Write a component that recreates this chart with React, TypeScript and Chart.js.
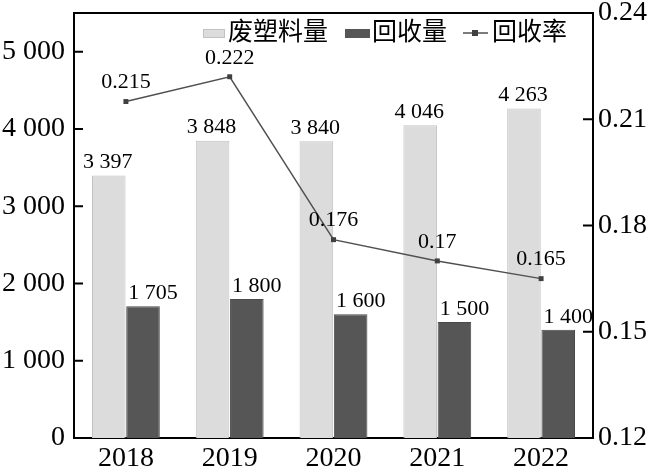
import React, { useEffect, useRef } from "react";
import { Chart, registerables } from "chart.js";

Chart.register(...registerables);

const categories = ["2018", "2019", "2020", "2021", "2022"];
const wasteAmount = [3397, 3848, 3840, 4046, 4263];
const recycledAmount = [1705, 1800, 1600, 1500, 1400];
const recycleRate = [0.215, 0.222, 0.176, 0.17, 0.165];
const seriesNames = ["废塑料量", "回收量", "回收率"];
const leftTickValues = [0, 1000, 2000, 3000, 4000, 5000];
const rightTickValues = [0.12, 0.15, 0.18, 0.21, 0.24];

const SERIF = '"Liberation Serif", "Noto Sans CJK SC", serif';
const LIGHT = "#dcdcdc";
const LIGHT_BORDER = "#c2c2c2";
const DARK = "#565656";
const LINE = "#505050";

const fmtThousands = (n: number) =>
  String(n).replace(/\B(?=(\d{3})+(?!\d))/g, " ");

const noPad = (s: any) => {
  s.paddingTop = 0;
  s.paddingBottom = 0;
  s.paddingLeft = 0;
  s.paddingRight = 0;
};

const decorPlugin = {
  id: "decor",
  afterDatasetsDraw(chart: any) {
    const ctx = chart.ctx;
    const area = chart.chartArea;
    ctx.save();
    ctx.strokeStyle = "#000";
    ctx.lineWidth = 2;
    ctx.beginPath();
    ctx.moveTo(area.left - 1, area.top);
    ctx.lineTo(area.right + 1, area.top);
    ctx.stroke();
    const yl = chart.scales.y;
    const yr = chart.scales.y1;
    ctx.beginPath();
    yl.ticks.forEach((t: any) => {
      const py = yl.getPixelForValue(t.value);
      ctx.moveTo(area.left, py);
      ctx.lineTo(area.left + 9, py);
    });
    yr.ticks.forEach((t: any) => {
      const py = yr.getPixelForValue(t.value);
      ctx.moveTo(area.right - 10, py);
      ctx.lineTo(area.right, py);
    });
    ctx.stroke();

    ctx.fillStyle = "#000";
    ctx.font = `22px ${SERIF}`;
    ctx.textAlign = "center";
    ctx.textBaseline = "bottom";
    const m0 = chart.getDatasetMeta(0);
    m0.data.forEach((el: any, i: number) => {
      ctx.fillText(fmtThousands(wasteAmount[i]), el.x - 1, el.y - 2);
    });
    const m1 = chart.getDatasetMeta(1);
    m1.data.forEach((el: any, i: number) => {
      ctx.fillText(fmtThousands(recycledAmount[i]), el.x + 10, el.y - 2);
    });
    const m2 = chart.getDatasetMeta(2);
    m2.data.forEach((el: any, i: number) => {
      ctx.fillText(String(recycleRate[i]), el.x, el.y - 8);
    });

    ctx.font = `25px ${SERIF}`;
    ctx.textAlign = "left";
    ctx.textBaseline = "middle";
    const ly = 33;
    ctx.fillStyle = LIGHT;
    ctx.fillRect(203, ly - 4, 22, 9);
    ctx.strokeStyle = LIGHT_BORDER;
    ctx.lineWidth = 1;
    ctx.strokeRect(203.5, ly - 3.5, 21, 8);
    ctx.fillStyle = "#000";
    ctx.fillText(seriesNames[0], 228, ly);
    ctx.fillStyle = DARK;
    ctx.fillRect(345, ly - 4, 25, 9);
    ctx.fillStyle = "#000";
    ctx.fillText(seriesNames[1], 372, ly);
    ctx.strokeStyle = LINE;
    ctx.lineWidth = 1.5;
    ctx.beginPath();
    ctx.moveTo(463, ly);
    ctx.lineTo(488, ly);
    ctx.stroke();
    ctx.fillStyle = "#404040";
    ctx.fillRect(472, ly - 3, 6, 6);
    ctx.fillStyle = "#000";
    ctx.fillText(seriesNames[2], 492, ly);
    ctx.restore();
  },
};

export default function App() {
  const ref = useRef<HTMLCanvasElement | null>(null);

  useEffect(() => {
    document.body.style.margin = "0";
    const canvas = ref.current;
    if (!canvas) return;
    const chart = new Chart(canvas, {
      type: "bar",
      data: {
        labels: categories,
        datasets: [
          {
            type: "bar",
            label: seriesNames[0],
            data: wasteAmount,
            backgroundColor: LIGHT,
            borderColor: LIGHT_BORDER,
            borderWidth: 1,
            yAxisID: "y",
            order: 2,
            categoryPercentage: 0.66,
            barPercentage: 0.98,
          },
          {
            type: "bar",
            label: seriesNames[1],
            data: recycledAmount,
            backgroundColor: DARK,
            borderColor: "#4a4a4a",
            borderWidth: 1,
            yAxisID: "y",
            order: 2,
            categoryPercentage: 0.66,
            barPercentage: 0.98,
          },
          {
            type: "line",
            label: seriesNames[2],
            data: recycleRate,
            borderColor: LINE,
            borderWidth: 1.5,
            pointStyle: "rect",
            pointRadius: 3.5,
            pointBackgroundColor: "#404040",
            pointBorderColor: "#404040",
            pointBorderWidth: 0,
            tension: 0,
            yAxisID: "y1",
            order: 0,
          } as any,
        ],
      },
      options: {
        responsive: false,
        animation: false,
        devicePixelRatio: 1,
        layout: { padding: { top: 13, left: 0, right: 0, bottom: 0 } },
        plugins: {
          legend: { display: false },
          tooltip: { enabled: false },
        },
        scales: {
          x: {
            grid: { display: false, drawTicks: false },
            border: { display: true, color: "#000", width: 2 },
            ticks: {
              color: "#000",
              font: { family: SERIF, size: 28 },
              padding: 4,
            },
            afterFit: (s: any) => {
              s.height = 31;
              noPad(s);
            },
          },
          y: {
            position: "left",
            min: 0,
            max: 5500,
            grid: { display: false, drawTicks: false },
            border: { display: true, color: "#000", width: 2 },
            afterBuildTicks: (s: any) => {
              s.ticks = leftTickValues.map((v) => ({ value: v }));
            },
            ticks: {
              color: "#000",
              font: { family: SERIF, size: 28 },
              padding: 9,
              callback: (v: any) => fmtThousands(Number(v)),
            },
            afterFit: (s: any) => {
              s.width = 74;
              noPad(s);
            },
          },
          y1: {
            position: "right",
            min: 0.12,
            max: 0.24,
            grid: { display: false, drawTicks: false },
            border: { display: true, color: "#000", width: 2 },
            afterBuildTicks: (s: any) => {
              s.ticks = rightTickValues.map((v) => ({ value: v }));
            },
            ticks: {
              color: "#000",
              font: { family: SERIF, size: 28 },
              padding: 5,
              callback: (v: any) => Number(v).toFixed(2),
            },
            afterFit: (s: any) => {
              s.width = 57;
              noPad(s);
            },
          },
        },
      },
      plugins: [decorPlugin],
    });
    return () => chart.destroy();
  }, []);

  return (
    <div style={{ width: 650, height: 469, background: "#fff" }}>
      <canvas ref={ref} width={650} height={469} style={{ display: "block" }} />
    </div>
  );
}
